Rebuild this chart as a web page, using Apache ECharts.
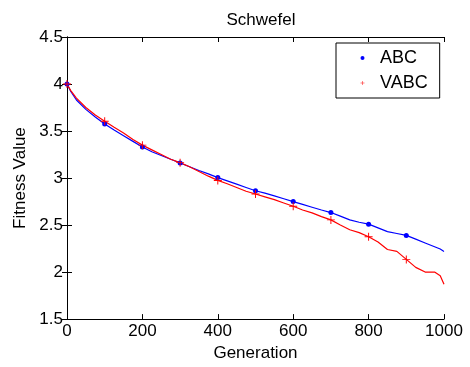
<!DOCTYPE html>
<html>
<head>
<meta charset="utf-8">
<script src="https://cdn.jsdelivr.net/npm/echarts@6/dist/echarts.min.js"></script>
<style>
  html, body { margin: 0; padding: 0; background: #fff; }
  #chart { width: 470px; height: 367px; }
</style>
</head>
<body>
<div id="chart"></div>
<script>
// generations where the curves were sampled
const generations = [0, 10, 25, 50, 75, 100, 125, 150, 175, 200, 225, 250, 275, 300, 325, 350, 375,
    400, 425, 450, 475, 500, 525, 550, 575, 600, 625, 650, 675, 700, 725, 750, 775, 800, 825, 850,
    875, 900, 925, 950, 975, 990, 1000];
const abcValues = [4.00, 3.92, 3.83, 3.73, 3.65, 3.575, 3.51, 3.45, 3.39, 3.33, 3.28, 3.24, 3.20, 3.16,
    3.12, 3.08, 3.045, 3.005, 2.97, 2.935, 2.90, 2.865, 2.84, 2.81, 2.78, 2.75, 2.72, 2.69, 2.66, 2.633,
    2.595, 2.555, 2.53, 2.51, 2.47, 2.43, 2.41, 2.39, 2.35, 2.31, 2.27, 2.245, 2.22];
const vabcValues = [4.00, 3.93, 3.85, 3.75, 3.67, 3.605, 3.54, 3.48, 3.41, 3.35, 3.30, 3.25, 3.20, 3.164,
    3.12, 3.07, 3.02, 2.975, 2.94, 2.90, 2.86, 2.83, 2.80, 2.77, 2.735, 2.70, 2.66, 2.63, 2.59, 2.555,
    2.50, 2.45, 2.42, 2.375, 2.32, 2.24, 2.22, 2.135, 2.05, 2.00, 2.00, 1.96, 1.87];
// markers sit every 100 generations (last one at 900)
const markerGenerations = [0, 100, 200, 300, 400, 500, 600, 700, 800, 900];
const xTicks = [0, 200, 400, 600, 800, 1000];
const yTicks = [1.5, 2, 2.5, 3, 3.5, 4, 4.5];

const FONT = 'Liberation Sans, Arial, sans-serif';
const plusPath = 'path://M4.4,0h1.2v10h-1.2zM0,4.4h10v1.2h-10z';

function pairs(values) {
    return generations.map((g, i) => [g, values[i]]);
}

function markers(values) {
    return markerGenerations.map(g => [g, values[generations.indexOf(g)]]);
}

const chart = echarts.init(document.getElementById('chart'), null, { renderer: 'canvas' });

const axisCommon = {
    type: 'value',
    axisLine: { show: true, lineStyle: { color: '#000', width: 1 } },
    axisTick: { show: true, inside: true, length: 5, lineStyle: { color: '#000' } },
    splitLine: { show: false },
};

const option = {
    animation: false,
    backgroundColor: '#fff',
    title: {
        text: 'Schwefel',
        left: 256,
        top: 7,
        textAlign: 'center',
        textStyle: { fontFamily: FONT, fontSize: 17, fontWeight: 'normal', color: '#000' }
    },
    legend: {
        data: ['ABC', 'VABC'],
        orient: 'vertical',
        left: 336,
        top: 43,
        padding: [6, 12, 6, 14],
        itemWidth: 25,
        itemHeight: 5,
        itemGap: 7,
        borderColor: '#000',
        borderWidth: 1,
        backgroundColor: '#fff',
        textStyle: { fontFamily: FONT, fontSize: 18, color: '#000', lineHeight: 16 }
    },
    grid: { left: 67, right: 26, top: 37, bottom: 45 },
    xAxis: [
        Object.assign({}, axisCommon, {
            position: 'bottom',
            min: xTicks[0],
            max: xTicks[xTicks.length - 1],
            interval: 200,
            name: 'Generation',
            nameLocation: 'middle',
            nameGap: 24,
            nameTextStyle: { fontFamily: FONT, fontSize: 17, color: '#000' },
            axisLabel: { fontFamily: FONT, fontSize: 17, color: '#000', margin: 4, formatter: v => String(v) }
        }),
        Object.assign({}, axisCommon, {
            position: 'top',
            min: xTicks[0],
            max: xTicks[xTicks.length - 1],
            interval: 200,
            axisLabel: { show: false }
        })
    ],
    yAxis: [
        Object.assign({}, axisCommon, {
            position: 'left',
            min: yTicks[0],
            max: yTicks[yTicks.length - 1],
            interval: 0.5,
            name: 'Fitness Value',
            nameLocation: 'middle',
            nameGap: 38,
            nameTextStyle: { fontFamily: FONT, fontSize: 17, color: '#000' },
            axisLabel: { fontFamily: FONT, fontSize: 17, color: '#000', margin: 4 }
        }),
        Object.assign({}, axisCommon, {
            position: 'right',
            min: yTicks[0],
            max: yTicks[yTicks.length - 1],
            interval: 0.5,
            axisLabel: { show: false }
        })
    ],
    series: [
        {
            name: 'ABC line',
            type: 'line',
            data: pairs(abcValues),
            showSymbol: false,
            lineStyle: { color: '#0000ff', width: 1.2 },
            itemStyle: { color: '#0000ff' },
            z: 2
        },
        {
            name: 'VABC line',
            type: 'line',
            data: pairs(vabcValues),
            showSymbol: false,
            lineStyle: { color: '#ff0000', width: 1.2 },
            itemStyle: { color: '#ff0000' },
            z: 3
        },
        {
            name: 'ABC',
            type: 'line',
            data: markers(abcValues),
            symbol: 'circle',
            symbolSize: 5,
            showAllSymbol: true,
            lineStyle: { width: 0, opacity: 0 },
            itemStyle: { color: '#0000ff' },
            z: 4
        },
        {
            name: 'VABC',
            type: 'line',
            data: markers(vabcValues),
            symbol: plusPath,
            symbolSize: 8,
            showAllSymbol: true,
            lineStyle: { width: 0, opacity: 0 },
            itemStyle: { color: '#ff0000' },
            z: 5
        }
    ]
};

chart.setOption(option);
</script>
</body>
</html>
